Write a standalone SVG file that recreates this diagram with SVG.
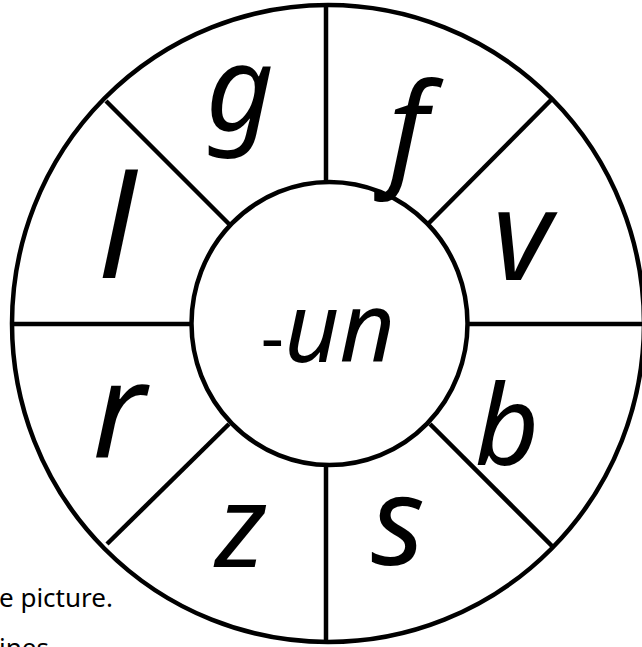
<svg xmlns="http://www.w3.org/2000/svg" width="642" height="647" viewBox="0 0 642 647">
<style>
.ring{fill:none;stroke:#000;stroke-width:4.5}
.spoke{stroke:#000;stroke-width:4.5;stroke-linecap:butt}
.let{font-family:"Noto Sans","DejaVu Sans",sans-serif;font-style:italic;fill:#000;text-anchor:middle}
.note{font-family:"Noto Sans","DejaVu Sans",sans-serif;font-size:26px;fill:#000}
</style>
<rect width="642" height="647" fill="#fff"/>
<g id="wheel">
<ellipse class="ring" cx="328" cy="323.5" rx="316" ry="318.5"/>
</g>
<g id="connectors">
<line class="spoke" x1="326" y1="5" x2="326" y2="183"/>
<line class="spoke" x1="326" y1="464" x2="326" y2="642"/>
<line class="spoke" x1="13" y1="324" x2="192" y2="324"/>
<line class="spoke" x1="467" y1="324" x2="644" y2="324"/>
<line class="spoke" x1="106" y1="101" x2="229" y2="224"/>
<line class="spoke" x1="552" y1="99" x2="429" y2="223"/>
<line class="spoke" x1="107" y1="544" x2="229" y2="424"/>
<line class="spoke" x1="552" y1="546" x2="430" y2="424"/>
</g>
<g id="center">
<ellipse class="ring" cx="329.5" cy="323.5" rx="138" ry="141.5" fill="#fff"/>
<text class="let" x="328" y="362" font-size="96"><tspan font-size="72" font-style="normal">-</tspan>un</text>
</g>
<g id="seg-g"><text class="let" x="240" y="130" font-size="118">g</text></g>
<g id="seg-f"><text class="let" x="408" y="172" font-size="125">f</text></g>
<g id="seg-v"><text class="let" x="522" y="280" font-size="127">v</text></g>
<g id="seg-b"><text class="let" x="507" y="465" font-size="112">b</text></g>
<g id="seg-s"><text class="let" x="398" y="565" font-size="124">s</text></g>
<g id="seg-z"><text class="let" x="241" y="567" font-size="116">z</text></g>
<g id="seg-r"><text class="let" x="119" y="457" font-size="134">r</text></g>
<g id="seg-l"><text class="let" x="117" y="278" font-size="142">l</text></g>
<g id="notes">
<text class="note" x="-1" y="607">e picture.</text>
<text class="note" x="-1" y="657">ines</text>
</g>
</svg>
